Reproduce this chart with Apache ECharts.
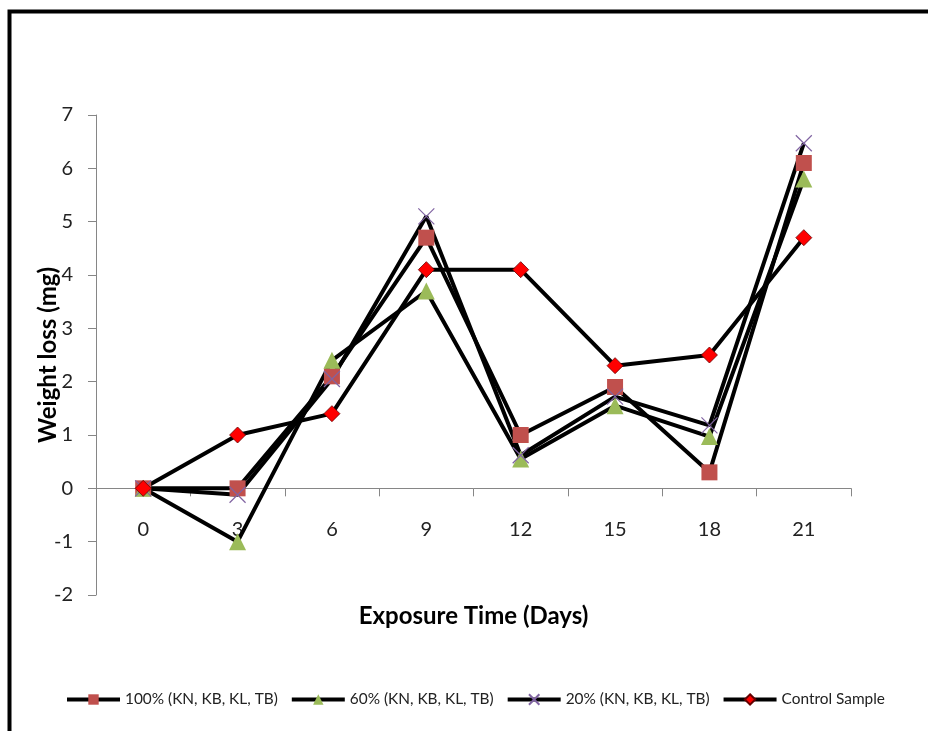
<!DOCTYPE html>
<html><head><meta charset="utf-8">
<script src="https://cdn.jsdelivr.net/npm/echarts@6/dist/echarts.min.js"></script>
<style>html,body{margin:0;padding:0;background:#fff}#c{width:928px;height:731px}</style>
</head><body><div id="c"></div>
<script>
const categories = ['0','3','6','9','12','15','18','21'];
const s100 = [0, 0, 2.1, 4.7, 1.0, 1.9, 0.3, 6.1];
const s60 = [0, -1.0, 2.4, 3.7, 0.55, 1.55, 0.97, 5.8];
const s20 = [0, -0.12, 2.05, 5.1, 0.62, 1.72, 1.18, 6.47];
const sCtrl = [0, 1.0, 1.4, 4.1, 4.1, 2.3, 2.5, 4.7];
const names = ['100% (KN, KB, KL, TB)', '60% (KN, KB, KL, TB)', '20% (KN, KB, KL, TB)', 'Control Sample'];
const yTicks = {min: -2, max: 7, interval: 1};

const font = 'Lato, "Open Sans", sans-serif';
const chart = echarts.init(document.getElementById('c'));
const crossPath = 'path://M0,0L10,10M10,0L0,10';
function mk(name, data, symbol, size, itemStyle) {
  return {
    name, type: 'line', data, symbol, symbolSize: size,
    lineStyle: {color: '#000', width: 4},
    itemStyle, emphasis: {disabled: true}, animation: false
  };
}
chart.setOption({
  animation: false,
  graphic: [{type: 'rect', shape: {x: 9.5, y: 11.5, width: 1000, height: 1000},
    style: {fill: 'none', stroke: '#000', lineWidth: 4}, silent: true}],
  grid: {left: 96, right: 77, top: 115, bottom: 136, containLabel: false, outerBoundsMode: 'none'},
  legend: {
    top: 692, left: 65, padding: 0, itemWidth: 53, itemHeight: 13, itemGap: 12,
    lineStyle: {width: 4, color: '#000'},
    textStyle: {fontFamily: font, fontSize: 15.4, color: '#222'},
    data: names
  },
  xAxis: {
    type: 'category', data: categories, boundaryGap: true,
    name: 'Exposure Time (Days)', nameLocation: 'middle', nameGap: 9, nameMoveOverlap: false,
    nameTextStyle: {fontFamily: font, fontSize: 24, fontWeight: 'bold', color: '#000'},
    axisLine: {onZero: true, lineStyle: {color: '#868686', width: 1}},
    axisTick: {show: true, length: 8, inside: false, lineStyle: {color: '#868686'}},
    axisLabel: {fontFamily: font, fontSize: 20, color: '#222', margin: -75}
  },
  yAxis: {
    type: 'value', min: yTicks.min, max: yTicks.max, interval: yTicks.interval,
    name: 'Weight loss (mg)', nameLocation: 'middle', nameGap: 36, nameRotate: 90, nameMoveOverlap: false,
    nameTextStyle: {fontFamily: font, fontSize: 24, fontWeight: 'bold', color: '#000'},
    splitLine: {show: false},
    axisLine: {show: true, lineStyle: {color: '#868686', width: 1}},
    axisTick: {show: true, length: 8, lineStyle: {color: '#868686'}},
    axisLabel: {fontFamily: font, fontSize: 20, color: '#222', margin: 23}
  },
  series: [
    mk(names[0], s100, 'rect', 16, {color: '#C0504D'}),
    mk(names[1], s60, 'triangle', 17, {color: '#9BBB59'}),
    mk(names[2], s20, crossPath, 16, {color: 'rgba(0,0,0,0)', borderColor: '#8064A2', borderWidth: 1.2}),
    mk(names[3], sCtrl, 'diamond', 16, {color: '#FF0000', borderColor: '#600', borderWidth: 0.8})
  ]
});
</script></body></html>
